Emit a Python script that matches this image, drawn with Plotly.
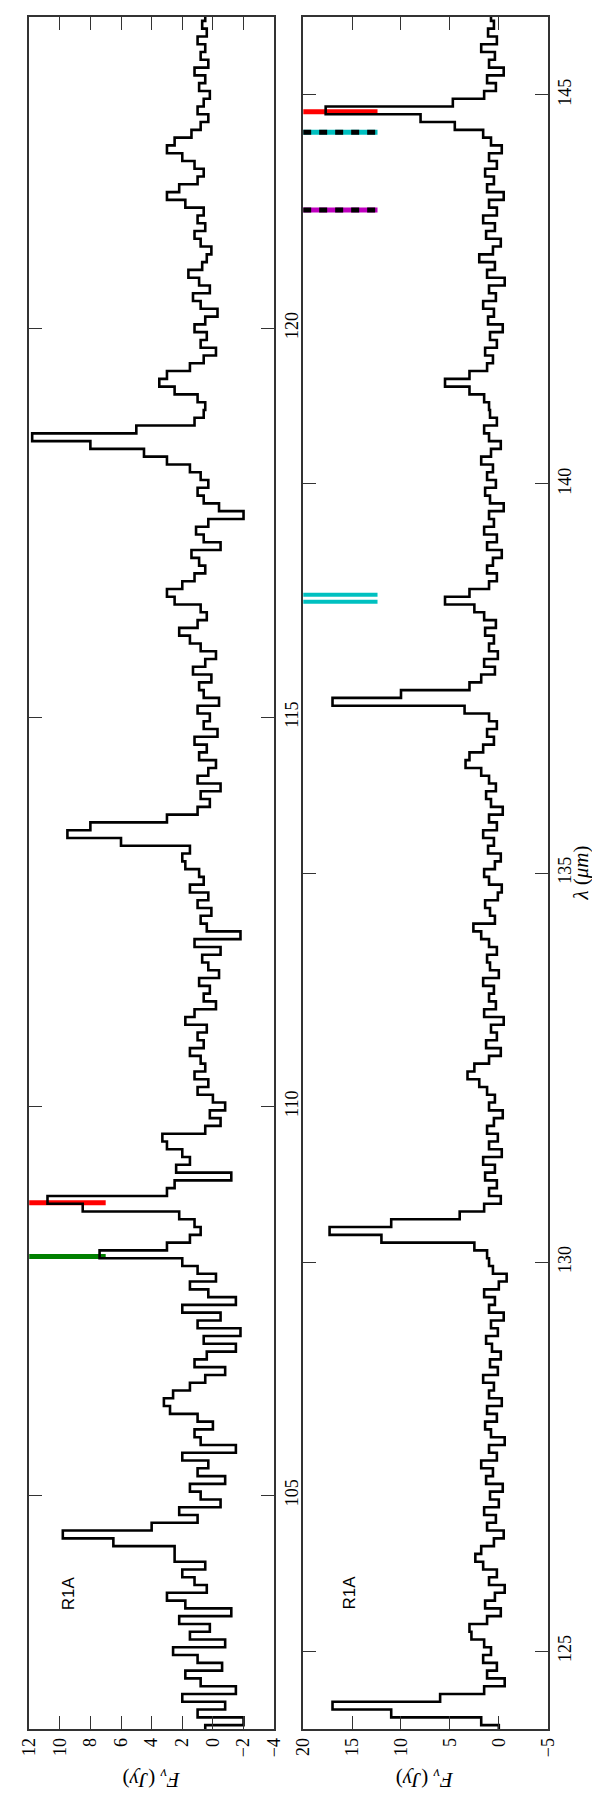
import plotly.graph_objects as go

# ---------------- data ----------------
lam_step = 0.1
lam1_start = 102.0   # upper (left) panel
lam2_start = 124.0   # lower (right) panel

flux1 = [
    0.5, -2.0, 1.0, -0.8, 2.0, -1.5, 0.8, 1.8, -0.6, 1.0,
    2.6, -0.8, 1.5, 0.2, 2.2, -1.2, 1.8, 3.0, 0.4, 1.2,
    2.0, 0.5, 2.5, 2.5, 6.5, 9.8, 4.0, 1.0, 2.2, -0.5,
    0.8, 1.5, -0.8, 1.0, 0.3, 2.0, -1.5, 0.8, 1.2, 0.0,
    1.0, 2.8, 3.2, 2.6, 1.5, 0.5, -0.8, 1.2, 0.4, -1.5,
    0.6, -1.8, 1.0, -0.5, 2.0, -1.5, 0.3, 1.5, -0.2, 1.0,
    2.0, 7.4, 3.0, 1.5, 0.8, 1.2, 2.2, 8.5, 10.8, 3.0,
    2.5, -1.2, 2.4, 1.5, 2.0, 3.0, 3.3, 0.5, -0.5, 0.2,
    -0.8, 0.0, 1.0, 0.3, 1.2, 0.5, 0.8, 1.5, 0.6, 1.0,
    0.4, 1.8, 1.2, -0.2, 0.6, 0.2, 0.9, -0.4, 0.3, 0.7,
    -0.5, 1.2, -1.8, 0.4, 0.8, 0.1, 1.0, 0.3, 1.5, 0.6,
    0.9, 1.8, 2.0, 1.5, 6.0, 9.5, 8.0, 3.0, 1.0, 0.2,
    0.8, -0.5, 1.0, 0.3, -0.2, 0.9, 0.4, 1.2, -0.3, 0.6,
    0.2, 1.0, -0.4, 0.6, 0.9, 0.1, 1.3, 0.5, -0.2, 0.8,
    1.5, 2.2, 1.0, 0.4, 0.8, 2.5, 3.0, 2.0, 1.2, 0.5,
    0.9, 1.4, -0.5, 0.6, 1.1, 0.3, -2.0, -0.4, 0.6, 1.0,
    0.3, 0.8, 1.5, 3.0, 4.5, 8.0, 11.8, 5.0, 1.2, 0.6,
    0.5, 1.0, 2.5, 3.5, 3.0, 1.5, 0.6, -0.2, 0.8, 0.4,
    1.2, 0.5, -0.3, 0.8, 1.3, 0.2, 0.9, 1.6, 0.7, 0.4,
    0.1, 0.8, 1.2, 0.5, 1.0, 0.6, 1.8, 3.0, 2.2, 1.0,
    0.6, 1.2, 2.0, 3.0, 2.5, 1.4, 0.8, 0.3, 1.0, 0.6,
    0.2, 0.9, 0.5, 1.2, 0.3, 0.8, 0.5, 1.0, 0.4, 0.7,
    0.5,
]

flux2 = [
    0.0, 1.8, 11.0, 17.0, 6.0, 1.5, -0.6, 1.2, 0.2, 1.6,
    0.8, 1.5, 2.8, 3.0, 1.2, -0.2, 1.4, 0.4, -0.6, 1.0,
    0.2, 1.6, 2.4, 1.8, 0.5, -0.5, 1.2, 0.3, 1.5, 0.0,
    0.9, -0.4, 1.3, 0.6, 1.8, 0.2, 1.0, -0.6, 0.8, 1.4,
    0.2, 1.2, -0.3, 1.0, 0.5, 1.6, 0.1, 0.9, -0.2, 0.7,
    1.3, 0.1, 0.8, -0.5, 1.0, 0.4, 1.5, 0.0, -0.8, 0.6,
    1.0, 1.2, 2.5, 12.0, 17.3, 11.0, 4.0, 1.5, -0.2, 1.0,
    0.2, 1.4, 0.4, 1.6, -0.3, 1.0, 0.1, 1.2, 0.5, -0.4,
    1.0, 0.4, 1.2, 2.0, 3.2, 2.5, 1.0, -0.2, 1.3, 0.2,
    0.8, -0.5, 1.5, 0.3, 1.0, 0.5, 1.6, 0.0, 0.9, 1.2,
    0.2, 1.0, 1.8, 2.6, 0.4, 0.9, 1.4, 0.1, -0.3, 1.0,
    1.5, 0.4, -0.2, 1.1, 0.5, 1.6, 0.2, 1.0, -0.4, 0.8,
    1.3, 0.3, 1.0, 1.8, 3.4, 3.0, 1.6, 0.5, 1.2, 0.2,
    1.0, 3.5, 17.0, 10.0, 3.0, 1.8, 0.4, 1.5, 0.1, 1.0,
    0.5, 1.4, 0.3, 1.5, 2.5, 5.5, 3.0, 1.0, 0.2, 1.2,
    0.6, -0.3, 1.2, 0.2, 1.5, 0.5, 1.0, -0.5, 0.9, 1.4,
    0.3, 1.2, 0.6, 1.8, 0.8, -0.2, 1.0, 1.5, 0.2, 0.9,
    1.0, 1.5, 3.0, 5.5, 3.0, 1.2, 0.6, 1.4, 0.2, 0.9,
    -0.4, 1.1, 0.5, 1.6, 0.3, 1.0, -0.6, 1.2, 0.4, 2.0,
    0.6, -0.2, 1.3, 0.4, 1.6, 0.2, 1.0, -0.5, 1.2, 0.5,
    1.4, 0.2, 1.0, -0.3, 0.8, 1.6, 4.5, 8.0, 17.7, 4.7,
    1.5, 0.3, 1.2, -0.5, 1.0, 0.4, 1.8, 0.2, 1.1, 0.5,
    0.8,
]

lam1 = [round(lam1_start + i * lam_step, 3) for i in range(len(flux1))]
lam2 = [round(lam2_start + i * lam_step, 3) for i in range(len(flux2))]

# line identification markers
marker_panel = [1, 1, 2, 2, 2, 2, 2]
marker_lam = [108.763, 108.073, 144.784, 144.518, 143.52, 138.485, 138.575]
marker_top = [12.0, 12.0, 20.0, 20.0, 20.0, 20.0, 20.0]
marker_end = [7.0, 7.0, 12.4, 12.4, 12.4, 12.4, 12.4]
marker_color = ["#ff0000", "#008000", "#ff0000", "#00c0c0", "#c000c0", "#00c0c0", "#00c0c0"]
marker_width = [5, 5, 5, 5, 5, 4, 4]
marker_dash = [False, False, False, True, True, False, False]

flux1_ticks = [12, 10, 8, 6, 4, 2, 0, -2, -4]
flux2_ticks = [20, 15, 10, 5, 0, -5]
lam1_ticks = [105, 110, 115, 120]
lam2_ticks = [125, 130, 135, 140, 145]


def fmt(v):
    return ("\u2212" + str(abs(v))) if v < 0 else str(v)


# ---------------- figure ----------------
fig = go.Figure()

for p, lm, f0, f1, c, w, d in zip(marker_panel, marker_lam, marker_top, marker_end,
                                  marker_color, marker_width, marker_dash):
    xa, ya = ("x", "y") if p == 1 else ("x2", "y2")
    fig.add_trace(go.Scatter(x=[f0, f1], y=[lm, lm], mode="lines", xaxis=xa, yaxis=ya,
                             line=dict(color=c, width=w), hoverinfo="skip"))
    if d:
        fig.add_trace(go.Scatter(x=[f0, f1], y=[lm, lm], mode="lines", xaxis=xa, yaxis=ya,
                                 line=dict(color="black", width=w, dash="8px,8px"), hoverinfo="skip"))

fig.add_trace(go.Scatter(x=flux1, y=lam1, mode="lines", xaxis="x", yaxis="y",
                         line=dict(color="black", width=2.6, shape="vhv")))
fig.add_trace(go.Scatter(x=flux2, y=lam2, mode="lines", xaxis="x2", yaxis="y2",
                         line=dict(color="black", width=2.6, shape="vhv")))

W, H = 600, 1800
ytop, ybot = 9, 1721
dom_y = [1 - ybot / H, 1 - ytop / H]

axis_common = dict(
    ticks="inside", ticklen=13, tickwidth=1.2, tickcolor="#333",
    showline=True, linewidth=1.6, linecolor="#333", mirror="ticks",
    showgrid=False, zeroline=False, tickangle=-90,
    tickfont=dict(family="Liberation Serif, DejaVu Serif, serif", size=18, color="black"),
)

fig.update_layout(
    width=W, height=H,
    margin=dict(l=0, r=0, t=0, b=0),
    paper_bgcolor="white", plot_bgcolor="white",
    showlegend=False,
    xaxis=dict(domain=[11.5 / W, 265 / W], range=[12, -4], anchor="y",
               tickvals=flux1_ticks, ticktext=[fmt(v) for v in flux1_ticks], **axis_common),
    yaxis=dict(domain=dom_y, range=[102, 124], anchor="x", side="right",
               tickvals=lam1_ticks, ticktext=[str(v) for v in lam1_ticks], **axis_common),
    xaxis2=dict(domain=[295 / W, 548 / W], range=[20, -5], anchor="y2",
                tickvals=flux2_ticks, ticktext=[fmt(v) for v in flux2_ticks], **axis_common),
    yaxis2=dict(domain=dom_y, range=[124, 146], anchor="x2", side="right",
                tickvals=lam2_ticks, ticktext=[str(v) for v in lam2_ticks], **axis_common),
)

ann_font = dict(family="Liberation Serif, DejaVu Serif, serif", size=21, color="black")
common_ann = dict(xref="paper", yref="paper", showarrow=False, xanchor="center", yanchor="middle")
fig.add_annotation(x=138 / W, y=1 - 1771 / H, text="<i>F</i><sub><i>\u03bd</i></sub> (<i>Jy</i>)",
                   textangle=180, font=ann_font, **common_ann)
fig.add_annotation(x=421 / W, y=1 - 1771 / H, text="<i>F</i><sub><i>\u03bd</i></sub> (<i>Jy</i>)",
                   textangle=180, font=ann_font, **common_ann)
fig.add_annotation(x=582 / W, y=1 - 865 / H, text="<i>\u03bb</i> (<i>\u03bcm</i>)",
                   textangle=-90, font=ann_font, **common_ann)

lab_font = dict(family="Liberation Sans, Arial, sans-serif", size=17, color="black")
fig.add_annotation(x=52 / W, y=1 - 1585 / H, text="R1A", textangle=-90, font=lab_font, **common_ann)
fig.add_annotation(x=342 / W, y=1 - 1585 / H, text="R1A", textangle=-90, font=lab_font, **common_ann)

fig.write_html("out.html")
